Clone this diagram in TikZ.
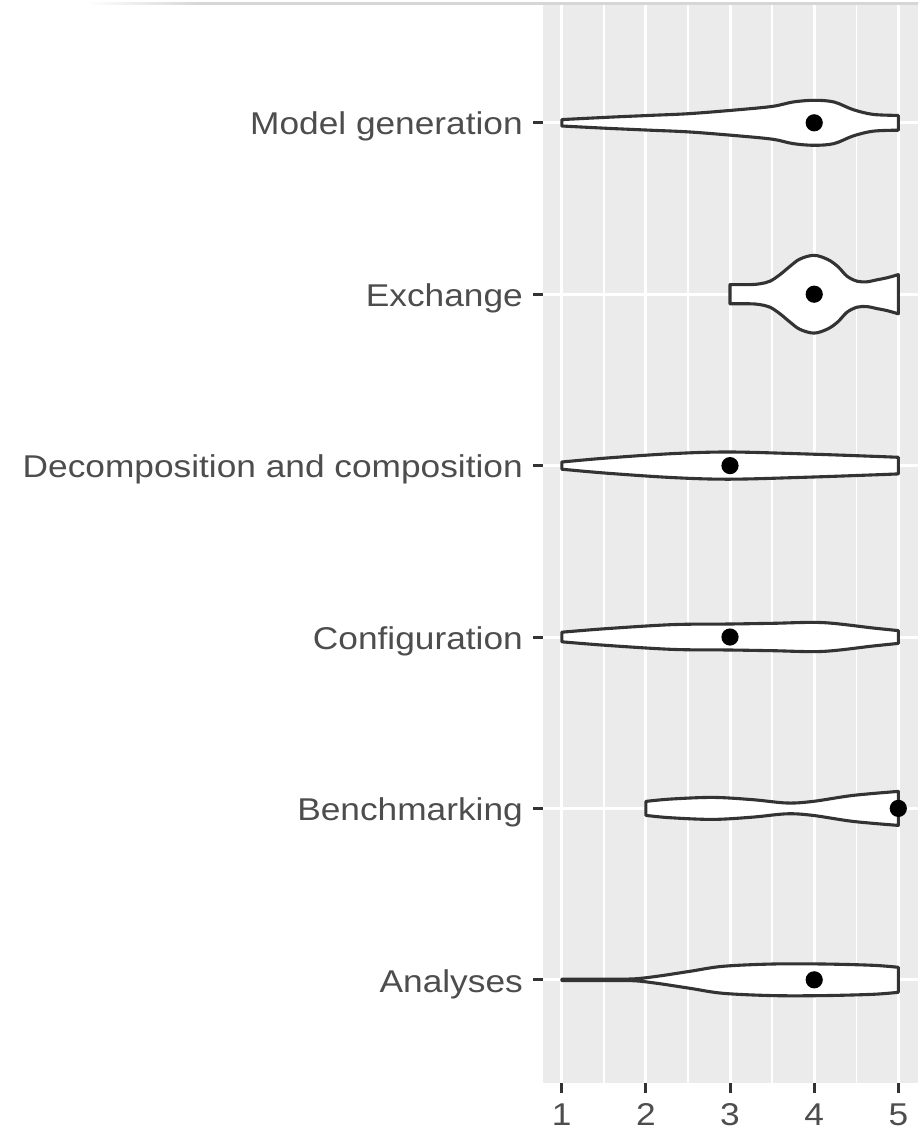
\documentclass[tikz,border=0pt]{standalone}
\usepackage{fontspec}
\setmainfont[FakeStretch=1.12]{Liberation Sans}
\definecolor{panel}{HTML}{EBEBEB}
\definecolor{txt}{HTML}{4D4D4D}
\definecolor{axc}{HTML}{333333}
\definecolor{topline}{HTML}{D6D6D6}
\pgfdeclarehorizontalshading{topfade}{100bp}{color(0bp)=(white); color(25bp)=(white); color(32bp)=(topline); color(100bp)=(topline)}
\begin{document}
\begin{tikzpicture}[x=1pt,y=-1pt,
  lab/.style={text=txt,font=\fontsize{31.5}{38}\selectfont,inner sep=0pt},
  vio/.style={draw=axc,fill=white,line width=3.1pt,line join=round},
  dot/.style={fill=black},
  tck/.style={draw=axc,line width=3pt},
  majg/.style={draw=white,line width=3pt},
  ming/.style={draw=white,line width=1.5pt}]
\useasboundingbox (0,0) rectangle (918,1131);
% top line
\shade[shading=topfade] (85,3.0) rectangle (918,5.0);
% panel
\fill[panel] (543,5) rectangle (918,1083);
\foreach \x in {603.9,688,772.1,856.3} \draw[ming] (\x,5) -- (\x,1083);
\foreach \x in {561.8,645.9,730,814.2,898.3} \draw[majg] (\x,5) -- (\x,1083);
\foreach \y in {122.8,294.2,465.6,637,808.4,979.8} \draw[majg] (543,\y) -- (918,\y);
% axis ticks
\foreach \y in {122.8,294.2,465.6,637,808.4,979.8} \draw[tck] (533,\y) -- (543,\y);
\foreach \x in {561.8,645.9,730,814.2,898.3} \draw[tck] (\x,1083) -- (\x,1093);
% violins
\begin{scope}[shift={(0,122.8)}]
\draw[vio] plot[smooth,tension=0.55] coordinates {(561.8,-3.2) (607,-5.5) (650,-7.4) (690,-9.2) (740,-13.2) (773,-16.5) (793,-20.8) (814,-22.5) (834,-20.8) (853,-13.2) (873,-8.4) (898.3,-7.4)}
 -- plot[smooth,tension=0.55] coordinates {(898.3,7.4) (873,8.4) (853,13.2) (834,20.8) (814,22.5) (793,20.8) (773,16.5) (740,13.2) (690,9.2) (650,7.4) (607,5.5) (561.8,3.2)} -- cycle;
\fill[dot] (814.2,0) circle (8.6);
\end{scope}
\begin{scope}[shift={(0,294.2)}]
\draw[vio] plot[smooth,tension=0.55] coordinates {(730,-9.6) (750,-9.6) (760,-10.4) (770,-13) (780,-19.6) (790,-27.9) (800,-35.2) (814.2,-38.9) (828,-34.6) (838,-27.5) (847,-18) (857,-13) (867,-12.4) (877,-14.4) (887,-16.4) (898.3,-19.6)}
 -- plot[smooth,tension=0.55] coordinates {(898.3,19.6) (887,16.4) (877,14.4) (867,12.4) (857,13) (847,18) (838,27.5) (828,34.6) (814.2,38.9) (800,35.2) (790,27.9) (780,19.6) (770,13) (760,10.4) (750,9.6) (730,9.6)} -- cycle;
\fill[dot] (814.2,0) circle (8.6);
\end{scope}
\begin{scope}[shift={(0,465.6)}]
\draw[vio] plot[smooth,tension=0.55] coordinates {(561.8,-3.6) (607,-7.6) (673,-12) (730,-13.6) (807,-11.6) (873,-9.3) (898.3,-8.3)}
 -- plot[smooth,tension=0.55] coordinates {(898.3,8.3) (873,9.3) (807,11.6) (730,13.6) (673,12) (607,7.6) (561.8,3.6)} -- cycle;
\fill[dot] (730,0) circle (8.6);
\end{scope}
\begin{scope}[shift={(0,637)}]
\draw[vio] plot[smooth,tension=0.55] coordinates {(561.8,-4.8) (607,-8.4) (673,-12.4) (730,-13) (773,-13.7) (823,-14.4) (873,-9) (898.3,-6.4)}
 -- plot[smooth,tension=0.55] coordinates {(898.3,6.4) (873,9) (823,14.4) (773,13.7) (730,13) (673,12.4) (607,8.4) (561.8,4.8)} -- cycle;
\fill[dot] (730,0) circle (8.6);
\end{scope}
\begin{scope}[shift={(0,808.4)}]
\draw[vio] plot[smooth,tension=0.55] coordinates {(645.9,-7) (670,-9.3) (713,-11) (753,-8.7) (787,-5.4) (813,-7) (853,-13) (898.3,-17)}
 -- plot[smooth,tension=0.55] coordinates {(898.3,17) (853,13) (813,7) (787,5.4) (753,8.7) (713,11) (670,9.3) (645.9,7)} -- cycle;
\fill[dot] (898.3,0) circle (8.6);
\end{scope}
\begin{scope}[shift={(0,979.8)}]
\draw[vio] plot[smooth,tension=0.55] coordinates {(561.8,-0.7) (600,-0.7) (633,-0.9) (657,-3.5) (690,-8.5) (723,-13.5) (773,-15.8) (823,-15.8) (873,-14.5) (898.3,-12.5)}
 -- plot[smooth,tension=0.55] coordinates {(898.3,12.5) (873,14.5) (823,15.8) (773,15.8) (723,13.5) (690,8.5) (657,3.5) (633,0.9) (600,0.7) (561.8,0.7)} -- cycle;
\fill[dot] (814.2,0) circle (8.6);
\end{scope}
% y labels
\node[lab,anchor=base east] (l1) at (523,135) {Model generation};
\node[lab,anchor=base east] (l2) at (523,306.4) {Exchange};
\node[lab,anchor=base east] (l3) at (523,477.8) {Decomposition and composition};
\node[lab,anchor=base east] (l4) at (523,649.2) {Configuration};
\node[lab,anchor=base east] (l5) at (523,820.6) {Benchmarking};
\node[lab,anchor=base east] (l6) at (523,992) {Analyses};
% x labels
\node[lab,anchor=base] (t1) at (561.8,1125) {1};
\node[lab,anchor=base] (t2) at (645.9,1125) {2};
\node[lab,anchor=base] (t3) at (730,1125) {3};
\node[lab,anchor=base] (t4) at (814.2,1125) {4};
\node[lab,anchor=base] (t5) at (898.3,1125) {5};
\end{tikzpicture}
\end{document}
